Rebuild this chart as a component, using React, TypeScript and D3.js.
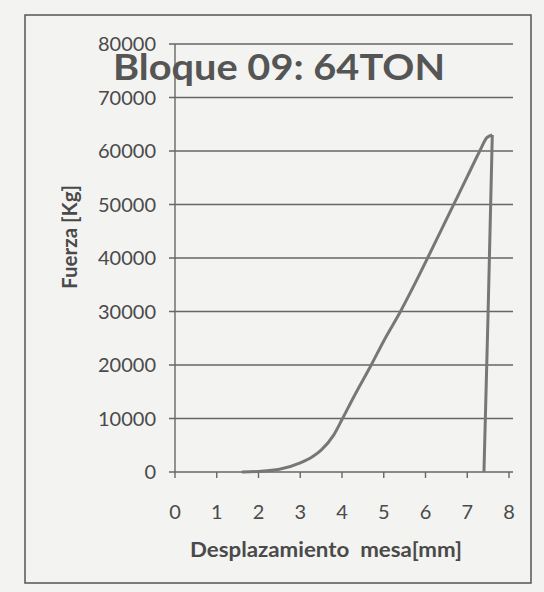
import React, { useEffect, useRef } from "react";
import * as d3 from "d3";

// desplazamiento [mm] vs fuerza [Kg]
const desplazamiento = [1.6, 2.0, 2.5, 3.0, 3.3, 3.5, 3.8, 4.0, 4.3, 4.7, 5.0, 5.4, 5.7, 6.05, 6.35, 6.65, 7.0, 7.3, 7.47, 7.6, 7.5, 7.4];
const fuerza = [0, 100, 500, 1700, 2900, 4100, 6900, 9800, 14300, 20000, 24500, 30000, 34500, 40000, 44800, 49600, 55200, 60000, 62500, 63000, 30000, 0];
const xTicks = [0, 1, 2, 3, 4, 5, 6, 7, 8];
const yTicks = [0, 10000, 20000, 30000, 40000, 50000, 60000, 70000, 80000];

const title = "Bloque 09: 64TON";
const xLabel = "Desplazamiento\u00a0\u00a0mesa[mm]";
const yLabel = "Fuerza [Kg]";

const W = 544;
const H = 592;

export default function App() {
  const ref = useRef<SVGSVGElement>(null);

  useEffect(() => {
    const svg = d3.select(ref.current);
    svg.selectAll("*").remove();

    const x = d3.scaleLinear().domain([0, 8]).range([175, 509]);
    const y = d3.scaleLinear().domain([0, 80000]).range([472, 44]);
    const font = "Lato, 'Open Sans', sans-serif";

    // paper
    svg.append("rect").attr("width", W).attr("height", H).attr("fill", "#f3f3f1");

    // outer frame
    svg
      .append("rect")
      .attr("x", 25)
      .attr("y", 15)
      .attr("width", 506)
      .attr("height", 568)
      .attr("fill", "none")
      .attr("stroke", "#555")
      .attr("stroke-width", 1.5);

    // horizontal gridlines
    svg
      .selectAll("line.grid")
      .data(yTicks)
      .enter()
      .append("line")
      .attr("class", "grid")
      .attr("x1", x(0) - 6)
      .attr("x2", 513)
      .attr("y1", (d) => y(d))
      .attr("y2", (d) => y(d))
      .attr("stroke", "#666")
      .attr("stroke-width", 1.4);

    // y axis line
    svg
      .append("line")
      .attr("x1", x(0))
      .attr("x2", x(0))
      .attr("y1", y(80000))
      .attr("y2", y(0))
      .attr("stroke", "#666")
      .attr("stroke-width", 1.4);

    // x axis ticks
    svg
      .selectAll("line.xt")
      .data(xTicks)
      .enter()
      .append("line")
      .attr("class", "xt")
      .attr("x1", (d) => x(d))
      .attr("x2", (d) => x(d))
      .attr("y1", y(0))
      .attr("y2", y(0) + 6)
      .attr("stroke", "#666")
      .attr("stroke-width", 1.4);

    // y tick labels
    svg
      .selectAll("text.yl")
      .data(yTicks)
      .enter()
      .append("text")
      .attr("class", "yl")
      .attr("x", 156)
      .attr("y", (d) => y(d))
      .attr("dy", "0.35em")
      .attr("text-anchor", "end")
      .attr("font-family", font)
      .attr("font-size", 20)
      .attr("fill", "#4a4a4a")
      .text((d) => String(d));

    // x tick labels
    svg
      .selectAll("text.xl")
      .data(xTicks)
      .enter()
      .append("text")
      .attr("class", "xl")
      .attr("x", (d) => x(d))
      .attr("y", 519)
      .attr("text-anchor", "middle")
      .attr("font-family", font)
      .attr("font-size", 20)
      .attr("fill", "#4a4a4a")
      .text((d) => String(d));

    // the curve: smooth loading part, then the straight drop after the peak
    const pts: [number, number][] = desplazamiento.map((d, i) => [d, fuerza[i]]);
    const peak = d3.maxIndex(fuerza);
    const subida = pts.slice(0, peak + 1);
    const caida = pts.slice(peak);

    svg
      .append("path")
      .datum(subida)
      .attr(
        "d",
        d3
          .line<[number, number]>()
          .x((d) => x(d[0]))
          .y((d) => y(d[1]))
          .curve(d3.curveMonotoneX)
      )
      .attr("fill", "none")
      .attr("stroke", "#777")
      .attr("stroke-width", 3)
      .attr("stroke-linejoin", "round");

    svg
      .append("path")
      .datum(caida)
      .attr(
        "d",
        d3
          .line<[number, number]>()
          .x((d) => x(d[0]))
          .y((d) => y(d[1]))
      )
      .attr("fill", "none")
      .attr("stroke", "#777")
      .attr("stroke-width", 3)
      .attr("stroke-linejoin", "round");

    // title
    svg
      .append("text")
      .attr("x", 113)
      .attr("y", 80)
      .attr("font-family", font)
      .attr("font-weight", "bold")
      .attr("font-size", 36)
      .attr("fill", "#555")
      .attr("textLength", 332)
      .attr("lengthAdjust", "spacingAndGlyphs")
      .text(title);

    // axis titles
    svg
      .append("text")
      .attr("x", 326)
      .attr("y", 557)
      .attr("text-anchor", "middle")
      .attr("font-family", font)
      .attr("font-weight", "bold")
      .attr("font-size", 21)
      .attr("fill", "#4a4a4a")
      .attr("textLength", 272)
      .attr("lengthAdjust", "spacingAndGlyphs")
      .text(xLabel);

    svg
      .append("text")
      .attr("transform", "translate(77,237) rotate(-90)")
      .attr("text-anchor", "middle")
      .attr("font-family", font)
      .attr("font-weight", "bold")
      .attr("font-size", 20)
      .attr("fill", "#4a4a4a")
      .attr("textLength", 104)
      .attr("lengthAdjust", "spacingAndGlyphs")
      .text(yLabel);
  }, []);

  return (
    <svg
      ref={ref}
      width={W}
      height={H}
      style={{ position: "absolute", left: 0, top: 0, display: "block" }}
    />
  );
}
